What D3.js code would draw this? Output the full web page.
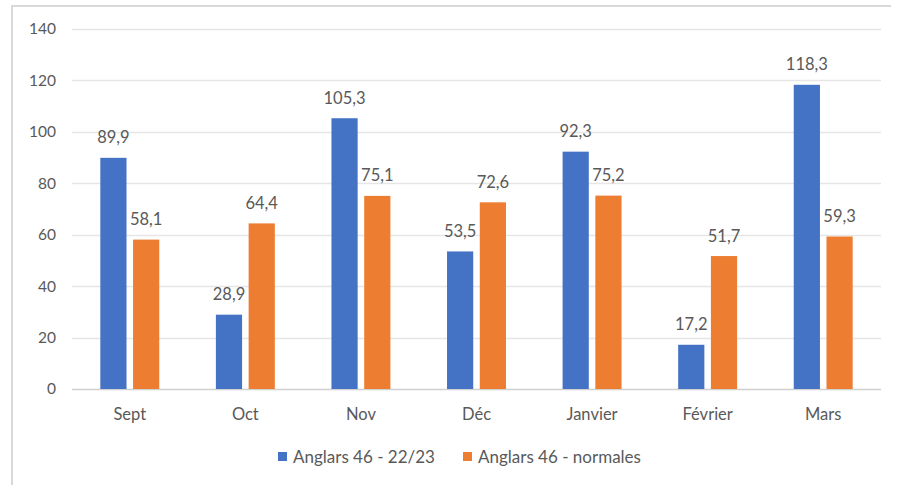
<!DOCTYPE html>
<html>
<head>
<meta charset="UTF-8">
<title>Anglars 46</title>
<style>
  body { margin: 0; background: #fff; }
  text { font-family: Lato, "Open Sans", sans-serif; fill: #595959; }
</style>
</head>
<body>
<script src="https://d3js.org/d3.v7.min.js"></script>
<script>
// data
var months = ["Sept", "Oct", "Nov", "Déc", "Janvier", "Février", "Mars"];
var saison = [89.9, 28.9, 105.3, 53.5, 92.3, 17.2, 118.3];
var normales = [58.1, 64.4, 75.1, 72.6, 75.2, 51.7, 59.3];
var seriesNames = ["Anglars 46 - 22/23", "Anglars 46 - normales"];
var yTicks = [0, 20, 40, 60, 80, 100, 120, 140];

var colors = ["#4472C4", "#ED7D31"];
var W = 899, H = 485;
var margin = { top: 29, right: 18, bottom: 96, left: 72 };

var svg = d3.select("body").append("svg")
    .attr("width", W)
    .attr("height", H);

// outer frame (only top and left edges show)
svg.append("path")
    .attr("d", "M12,488 L12,6 L891,6")
    .attr("fill", "none")
    .attr("stroke", "#d9d9d9")
    .attr("stroke-width", 2);

var x = d3.scaleBand()
    .domain(months)
    .range([margin.left, W - margin.right])
    .paddingInner(0.49)
    .paddingOuter(0.245);

var x1 = d3.scaleBand()
    .domain([0, 1])
    .range([0, x.bandwidth()])
    .paddingInner(0.2);

var y = d3.scaleLinear()
    .domain([0, 140])
    .range([H - margin.bottom, margin.top]);

// grid
svg.append("g")
    .selectAll("line")
    .data(yTicks)
    .enter().append("line")
    .attr("x1", margin.left)
    .attr("x2", W - margin.right)
    .attr("y1", d => Math.round(y(d)) + 0.5)
    .attr("y2", d => Math.round(y(d)) + 0.5)
    .attr("stroke", d => d === 0 ? "#d0d0d0" : "#e6e6e6")
    .attr("stroke-width", 1.5);

// y labels
svg.append("g")
    .selectAll("text")
    .data(yTicks)
    .enter().append("text")
    .attr("x", 56)
    .attr("y", d => y(d))
    .attr("dy", "0.35em")
    .attr("text-anchor", "end")
    .attr("font-size", 15.5)
    .text(d => d);

var groups = [saison, normales];

groups.forEach(function(vals, s) {
    var g = svg.append("g");
    g.selectAll("rect")
        .data(vals)
        .enter().append("rect")
        .attr("x", (d, i) => x(months[i]) + x1(s))
        .attr("width", x1.bandwidth())
        .attr("y", d => y(d))
        .attr("height", d => y(0) - y(d))
        .attr("fill", colors[s]);

    g.selectAll("text")
        .data(vals)
        .enter().append("text")
        .attr("x", (d, i) => x(months[i]) + x1(s) + x1.bandwidth() / 2)
        .attr("y", d => y(d) - 14.5)
        .attr("text-anchor", "middle")
        .attr("font-size", 16.5)
        .text(d => d.toFixed(1).replace(".", ","));
});

// x labels
svg.append("g")
    .selectAll("text")
    .data(months)
    .enter().append("text")
    .attr("x", d => x(d) + x.bandwidth() / 2)
    .attr("y", y(0) + 31)
    .attr("text-anchor", "middle")
    .attr("font-size", 16.5)
    .text(d => d);

// legend
var legendX = [278, 463];
var leg = svg.append("g");
seriesNames.forEach(function(name, s) {
    leg.append("rect")
        .attr("x", legendX[s])
        .attr("y", 452)
        .attr("width", 9)
        .attr("height", 9)
        .attr("fill", colors[s]);
    leg.append("text")
        .attr("x", legendX[s] + 15)
        .attr("y", 463)
        .attr("font-size", 17)
        .text(name);
});
</script>
</body>
</html>
